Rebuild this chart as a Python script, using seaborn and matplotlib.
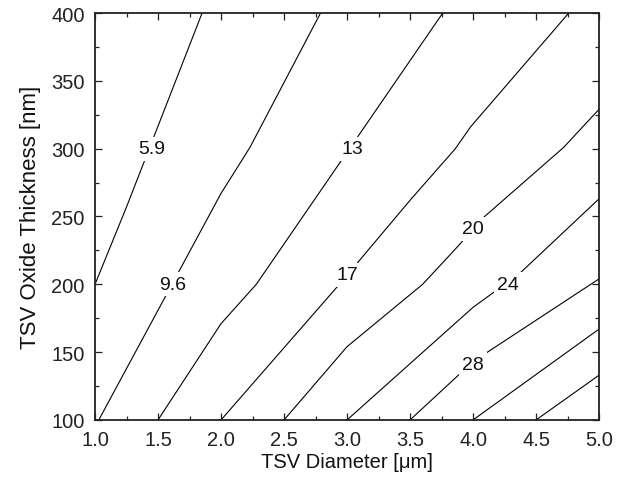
import matplotlib
matplotlib.use("Agg")
import matplotlib.pyplot as plt
from matplotlib.ticker import MultipleLocator
import seaborn as sns
import pandas as pd

# Contour polylines (x: TSV diameter [um], y: oxide thickness [nm])
c1_x = [1.0, 1.25, 1.85]
c1_y = [200, 257, 400]
c2_x = [1.03, 2.0, 2.23, 2.79]
c2_y = [100, 267, 301, 400]
c3_x = [1.5, 2.0, 2.28, 3.76]
c3_y = [100, 171, 200, 400]
c4_x = [2.0, 2.93, 3.51, 3.86, 3.98, 4.76]
c4_y = [100, 199, 263, 300, 316, 400]
c5_x = [2.5, 3.0, 3.6, 3.86, 4.08, 4.72, 5.0]
c5_y = [100, 154, 200, 226, 249, 301, 329]
c6_x = [3.0, 4.0, 4.37, 5.0]
c6_y = [100, 183, 208, 263]
c7_x = [3.5, 4.0, 5.0]
c7_y = [100, 143, 204]
c8_x = [4.0, 5.0]
c8_y = [100, 167]
c9_x = [4.5, 5.0]
c9_y = [100, 133]

level_names = ["5.9", "9.6", "13", "17", "20", "24", "28", "31.8", "35.5"]

# Inline contour labels
label_text = ["5.9", "9.6", "13", "17", "20", "24", "28"]
label_x = [1.45, 1.62, 3.04, 3.0, 4.0, 4.28, 4.0]
label_y = [300, 200, 300, 207, 241, 200, 141]

x_ticks = [1.0, 1.5, 2.0, 2.5, 3.0, 3.5, 4.0, 4.5, 5.0]
y_ticks = [100, 150, 200, 250, 300, 350, 400]

xs = [c1_x, c2_x, c3_x, c4_x, c5_x, c6_x, c7_x, c8_x, c9_x]
ys = [c1_y, c2_y, c3_y, c4_y, c5_y, c6_y, c7_y, c8_y, c9_y]
rows = []
for name, lx, ly in zip(level_names, xs, ys):
    for a, b in zip(lx, ly):
        rows.append({"level": name, "d": a, "t": b})
df = pd.DataFrame(rows)

sns.set_style("ticks")
plt.rcParams["font.family"] = ["Liberation Sans", "DejaVu Sans"]

fig = plt.figure(figsize=(6.3, 4.85), dpi=100)
ax = fig.add_axes([0.1508, 0.132, 0.80, 0.8391])

sns.lineplot(data=df, x="d", y="t", units="level", estimator=None, sort=False,
             color="black", linewidth=0.8, ax=ax, legend=False)

for t, a, b in zip(label_text, label_x, label_y):
    ax.text(a, b, t, ha="center", va="center", fontsize=14, color="#111111",
            bbox=dict(facecolor="white", edgecolor="none", pad=2.5), zorder=5)

ax.set_xlim(1.0, 5.0)
ax.set_ylim(100, 400)
ax.set_xticks(x_ticks)
ax.set_xticklabels([f"{v:.1f}" for v in x_ticks])
ax.set_yticks(y_ticks)
ax.set_yticklabels([str(v) for v in y_ticks])
ax.xaxis.set_minor_locator(MultipleLocator(0.25))
ax.yaxis.set_minor_locator(MultipleLocator(25))
ax.tick_params(which="both", direction="in", top=True, right=True, colors="#222222")
ax.tick_params(which="major", length=5, width=0.9, labelsize=14.5, pad=7.5)
ax.tick_params(which="minor", length=3, width=0.9)
for s in ax.spines.values():
    s.set_linewidth(1.3)
    s.set_color("#222222")

ax.set_xlabel("TSV Diameter [μm]", fontsize=14.5, labelpad=2, color="#111111")
ax.set_ylabel("TSV Oxide Thickness [nm]", fontsize=16, labelpad=7, color="#111111")

fig.savefig("out.png", dpi=100)
